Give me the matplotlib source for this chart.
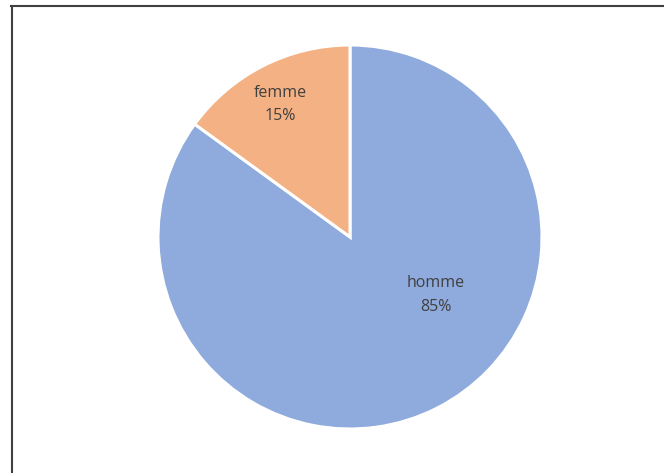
import matplotlib.pyplot as plt
from matplotlib.lines import Line2D
import numpy as np

labels = ["homme", "femme"]
shares = [85, 15]
colors = ["#8FAADC", "#F4B183"]

W, H = 664, 473
fig = plt.figure(figsize=(W / 100, H / 100), dpi=100)
fig.patch.set_facecolor("white")

# pie centred at (350, 237) px from top-left, radius ~192 px
r_px = 192
cx, cy = 350, H - 237
ax = fig.add_axes([(cx - r_px) / W, (cy - r_px) / H, 2 * r_px / W, 2 * r_px / H])

wedges, _ = ax.pie(shares, colors=colors, startangle=90, counterclock=False,
                   radius=1, wedgeprops=dict(edgecolor="white", linewidth=2.2))
ax.set_xlim(-1, 1)
ax.set_ylim(-1, 1)
ax.set_aspect("equal")
ax.axis("off")

# label positions as (angle deg, fraction of radius)
label_pos = {"homme": (-34, 0.54), "femme": (117.6, 0.78)}
for lab, val in zip(labels, shares):
    ang, d = label_pos[lab]
    x = d * np.cos(np.radians(ang))
    y = d * np.sin(np.radians(ang))
    ax.text(x, y, f"{lab}\n{val}%", ha="center", va="center", fontsize=11.5,
            color="#404040", family=["Open Sans", "DejaVu Sans"], linespacing=1.6)

# border lines (left and top only)
fig.add_artist(Line2D([11.5 / W, 11.5 / W], [0, (H - 6) / H], color="#404040",
                      linewidth=1.5, transform=fig.transFigure))
fig.add_artist(Line2D([11 / W, 1], [(H - 6.5) / H, (H - 6.5) / H], color="#404040",
                      linewidth=1.5, transform=fig.transFigure))

fig.savefig("out.png", dpi=100)
